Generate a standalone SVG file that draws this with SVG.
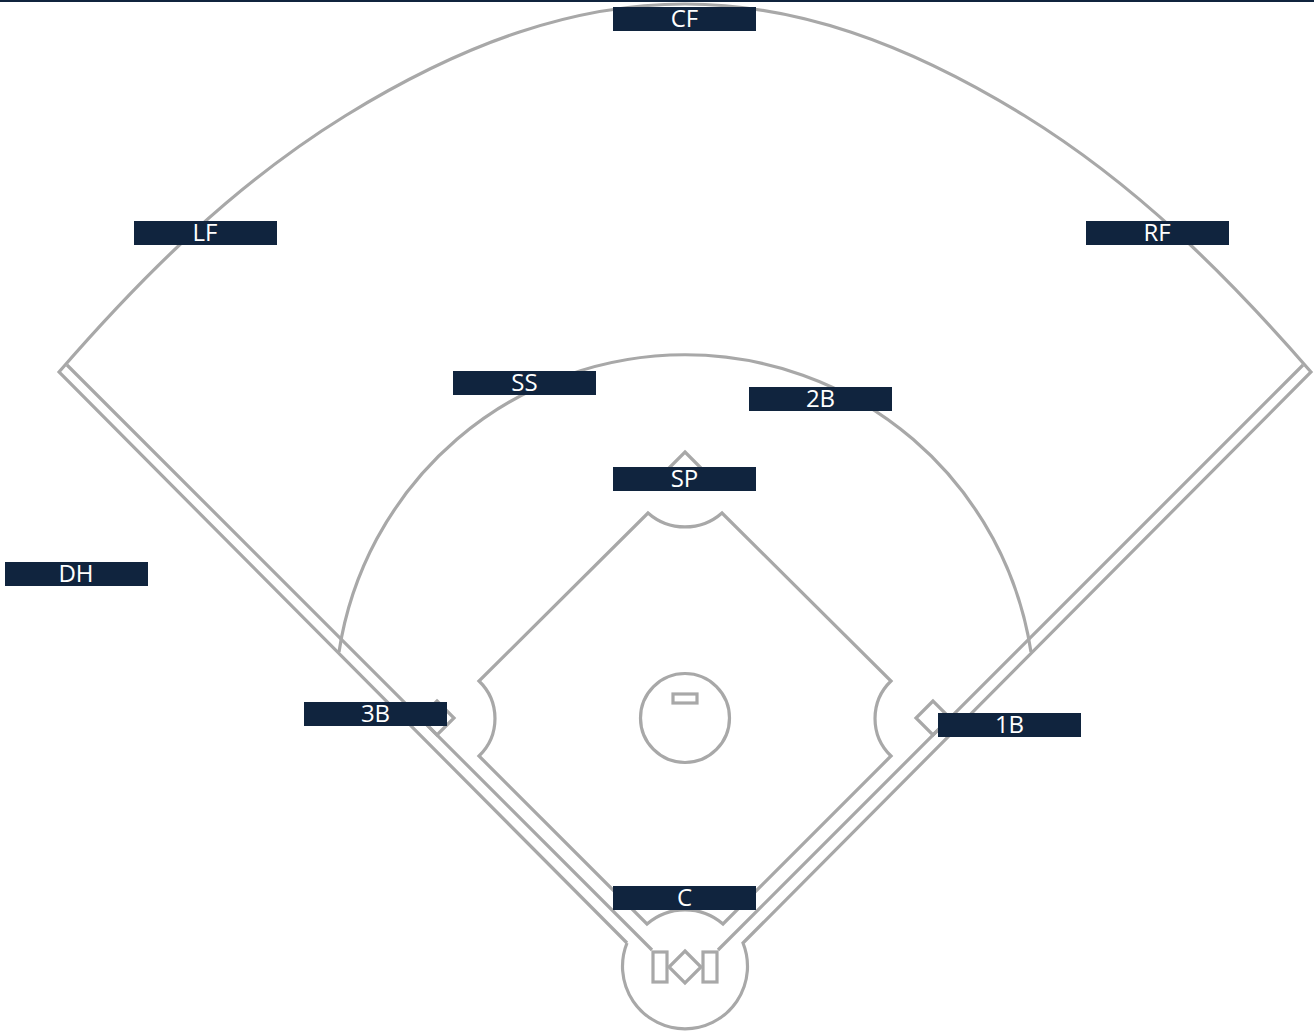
<svg xmlns="http://www.w3.org/2000/svg" width="1314" height="1034" viewBox="0 0 1314 1034">
<style>
.f{fill:none;stroke:#a8a8a8;stroke-width:3.2;stroke-linejoin:miter}
.b{fill:#10243e}
.t{fill:#fff;font-family:"Open Sans",sans-serif;font-size:24px;text-anchor:middle}
</style>
<defs><filter id="soft" x="0" y="0" width="1314" height="1034" filterUnits="userSpaceOnUse"><feGaussianBlur stdDeviation="0.45"/></filter></defs>
<rect width="1314" height="1034" fill="#fff"/>
<g id="field" filter="url(#soft)">
<path class="f" d="M627 943L59 372C144 274 235 184 345 116C465 42 575 4 685 4C795 4 905 42 1025 116C1135 184 1226 274 1311 372L743 943A62.500 62.500 0 1 1 627 943"/>
<path class="f" d="M67 365L652 950M1303 365L718 950"/>
<path class="f" d="M339 652A350 350 0 0 1 1031 652"/>
<path class="f" d="M648 513A56 56 0 0 0 722 513L891 681A52 52 0 0 0 891 756L723 924A58 58 0 0 0 647 924L479 756A52 52 0 0 0 479 681Z"/>
<path class="f" d="M685 452L702 469L685 486L668 469Z"/>
<path class="f" d="M933 701L916 718L933 735L950 718Z"/>
<path class="f" d="M437 701L454 718L437 735L420 718Z"/>
<circle class="f" cx="685" cy="718" r="44.5"/>
<rect class="f" x="673" y="694" width="24" height="9"/>
<rect class="f" x="653" y="952" width="14" height="30"/>
<rect class="f" x="703" y="952" width="14" height="30"/>
<path class="f" d="M685 951L701 967L685 983L669 967Z"/>
</g>
<rect width="1314" height="2" fill="#10243e"/>
<g id="CF"><rect class="b" x="613" y="7" width="143" height="24"/><text class="t" x="684.500" y="27">CF</text></g>
<g id="LF"><rect class="b" x="134" y="221" width="143" height="24"/><text class="t" x="205" y="241">LF</text></g>
<g id="RF"><rect class="b" x="1086" y="221" width="143" height="24"/><text class="t" x="1157" y="241">RF</text></g>
<g id="SS"><rect class="b" x="453" y="371" width="143" height="24"/><text class="t" x="524.500" y="391">SS</text></g>
<g id="2B"><rect class="b" x="749" y="387" width="143" height="24"/><text class="t" x="820.500" y="407">2B</text></g>
<g id="SP"><rect class="b" x="613" y="467" width="143" height="24"/><text class="t" x="684.500" y="487">SP</text></g>
<g id="DH"><rect class="b" x="5" y="562" width="143" height="24"/><text class="t" x="76" y="581.500">DH</text></g>
<g id="3B"><rect class="b" x="304" y="702" width="143" height="24"/><text class="t" x="375.500" y="722">3B</text></g>
<g id="1B"><rect class="b" x="938" y="713" width="143" height="24"/><text class="t" x="1009.500" y="733">1B</text></g>
<g id="C"><rect class="b" x="613" y="886" width="143" height="24"/><text class="t" x="684.500" y="906">C</text></g>
</svg>
